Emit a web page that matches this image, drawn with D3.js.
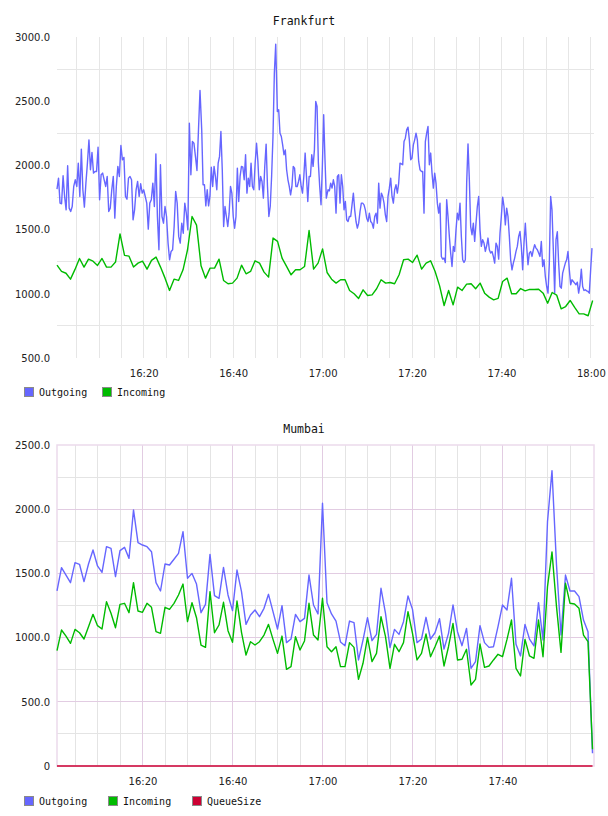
<!DOCTYPE html>
<html>
<head>
<meta charset="utf-8">
<script src="https://cdnjs.cloudflare.com/ajax/libs/d3/7.8.5/d3.min.js"></script>
<style>
  html, body { margin: 0; padding: 0; background: #fff; }
  svg { display: block; }
  .tick text { font-family: "DejaVu Sans", sans-serif; font-size: 10px; fill: #222; }
  .title, .legend text { font-family: "DejaVu Sans Mono", monospace; fill: #111; }
</style>
</head>
<body>
<svg id="chart" width="608" height="816"></svg>
<script>
// ---------------- DATA ----------------
const seriesNames = ["Outgoing", "Incoming", "QueueSize"];
const seriesColors = ["#6666ff", "#00bb00", "#cc0033"];

// Frankfurt – outgoing, in stretches of evenly spaced samples
const frankfurtOutA1Start = "16:00:36", frankfurtOutA1End = "16:32:35";
const frankfurtOutgoingA1 = [
1815,1901,1706,1701,1919,1758,1654,1997,1667,1641,
1680,1836,1888,1836,2018,1758,2127,1810,1675,1862,
2018,2199,1966,2101,1940,1953,1953,2142,1732,1927,
1940,1888,1836,1914,1641,1667,1810,1914,1589,1836,
1992,1914,2155,2044,2062,1758,1737,1901,1914,1888,
1576,1654,1810,1875,1758,1857,1784,1810,1758,1706,
1504,1706,1732,1862,1680,2090,1602,1343,2005,1602,
1550,1680,1602,1395,1265,1330,1343,1524,1797,1706,
1447,1395,1550,1472,1706,1628,1498,2329,1927,2186,
2173,2070,1960,2277,2584
];
const frankfurtOutA2Start = "16:32:58", frankfurtOutA2End = "16:49:31";
const frankfurtOutgoingA2 = [
2277,1849,1849,1685,1810,
1685,1758,1986,1836,1992,1914,1810,2018,2070,2264,
1966,1524,1680,1602,1524,1628,1836,1784,1602,1511,
1602,1979,1719,1914,1992,1986,1888,2083,1784,1901,
1836,2018,1836,1810,2018,2173,2031,1810,1914,1875,
1745,1992,2166,1836,1602,1680,1914,2225,2719,2944
];
const frankfurtOutA3Start = "16:49:53", frankfurtOutA3End = "17:00:50";
const frankfurtOutgoingA3 = [
2420,2433,2251,2225,2160,2083,2121,1966,1888,1836,
1771,1836,1992,1979,1836,1836,1875,1927,1836,1784,
1914,2096,1914,1719,1914,1914,2083,1992,2121,2498,
2459,2018,1836,1693,1992,2394,2044,1745
];
const frankfurtOutBStart = "17:01:13", frankfurtOutBEnd = "18:00:15";
const frankfurtOutgoingB = [
1810,1802,1862,1823,1888,1836,1628,1914,1927,1706,
1927,1836,1654,1719,1576,1563,1602,1602,1693,1784,
1654,1563,1511,1550,1641,1706,1706,1693,1654,1589,
1563,1628,1563,1550,1511,1602,1628,1550,1862,1667,
1784,1758,1706,1615,1563,1758,1823,1901,1758,1706,
1810,1849,1784,1862,2018,2012,2005,2186,2212,2277,
2298,2199,2044,2057,2160,2199,2251,2199,2031,1966,
1953,1953,1628,2186,2251,2303,2005,2096,1940,1823,
1940,1862,1706,1628,1706,1291,1270,1278,1244,1732,
1602,1447,1317,1213,1369,1330,1498,1628,1576,1706,
1447,1265,1244,1265,1862,2168,1888,1524,1460,1550,
1408,1550,1680,1758,1498,1369,1421,1395,1330,1374,
1434,1343,1317,1330,1291,1239,1395,1369,1270,1472,
1602,1753,1680,1537,1667,1602,1447,1265,1187,1239,
1278,1330,1369,1447,1485,1369,1187,1395,1550,1369,
1226,1317,1330,1291,1343,1382,1356,1343,1317,1291,
1408,1213,1265,1135,1057,1005,1239,1758,1654,1343,
1005,1421,1483,1239,1057,1044,1161,1200,1239,1265,
1330,1187,1070,1109,1096,1083,1070,1091,1005,1070,
1192,1057,1026,1031,1023,1018,1005,1187,1356
];
const frankfurtInStart = "16:00:36", frankfurtInEnd = "18:00:24";
const frankfurtIncoming = [
1223,1175,1160,1114,1190,1275,
1208,1270,1254,1221,1275,1208,1208,1247,1467,1299,
1293,1208,1239,1254,1192,1260,1286,1208,1122,1026,
1114,1104,1187,1343,1602,1535,1218,1122,1200,1200,
1270,1104,1078,1083,1122,1223,1156,1174,1257,1239,
1169,1130,1434,1408,1278,1213,1148,1187,1187,1213,
1493,1192,1239,1350,1166,
1114,1083,1109,1109,1026,1000,964,1031,987,992,
1039,1109,1083,1088,1078,1148,1265,1270,1244,1301,
1192,1239,1257,1174,1062,909,1026,914,1052,1026,
1075,1078,1039,1083,1005,974,953,964,1096,1122,
1000,1000,1041,1023,1034,1034,1036,1005,927,1010,
990,883,901,948,894,844,844,829,948
];
const frankfurtDomain = ["16:00:36", "18:00:42"];
const frankfurtYTicks = [500, 1000, 1500, 2000, 2500, 3000];
const frankfurtYGrid = [750, 1250, 1750, 2250, 2750];
const frankfurtXTicks = ["16:20", "16:40", "17:00", "17:20", "17:40", "18:00"];

// Mumbai (one sample per minute)
const mumbaiStart = "16:01:00";
const mumbaiOutgoing = [
1363,1545,1487,1428,1584,1571,1436,1573,1682,1558,
1508,1708,1695,1475,1677,1703,1617,1994,1739,1721,
1708,1669,1428,1363,1573,1565,1610,1656,1825,1462,
1500,1417,1194,1259,1648,1327,1306,1547,1332,1210,
1526,1358,1103,1176,1215,1163,1228,1337,1202,1067,
1249,961,989,1181,1124,1150,1487,1254,1184,2046,
1272,1184,1129,966,937,1129,1116,826,981,1155,
976,1025,1384,1189,922,1064,1025,1124,1324,1220,
961,989,1158,989,1038,1147,911,1033,1254,1046,
937,1072,761,813,1093,961,924,929,1085,1254,
1215,1462,948,857,1103,989,935,1272,981,1903,
2300,1565,1020,1487,1363,1363,1319,1137,1046,99
];
const mumbaiIncoming = [
898,1059,1012,955,1064,1038,989,1085,1181,1093,
1067,1280,1189,1077,1259,1267,1194,1428,1207,1197,
1267,1236,1046,1033,1236,1220,1267,1332,1417,1124,
1272,1155,942,924,1358,1038,1098,1275,1054,963,
1285,1041,864,968,942,968,1020,1103,986,877,
1012,753,774,1007,903,974,1267,1020,981,1306,
929,890,929,774,774,961,924,675,800,1002,
813,877,1163,1007,761,948,890,961,1202,1033,
826,877,1028,851,929,1012,779,929,1111,826,
831,909,631,675,950,768,779,826,870,851,
986,1137,761,701,986,857,839,1137,851,1397,
1667,1241,885,1423,1267,1262,1228,1020,968,130
];
const mumbaiQueueSize = [
0,0,0,0,0,0,0,0,0,0, 0,0,0,0,0,0,0,0,0,0,
0,0,0,0,0,0,0,0,0,0, 0,0,0,0,0,0,0,0,0,0,
0,0,0,0,0,0,0,0,0,0, 0,0,0,0,0,0,0,0,0,0,
0,0,0,0,0,0,0,0,0,0, 0,0,0,0,0,0,0,0,0,0,
0,0,0,0,0,0,0,0,0,0, 0,0,0,0,0,0,0,0,0,0,
0,0,0,0,0,0,0,0,0,0, 0,0,0,0,0,0,0,0,0,0
];
const mumbaiDomain = ["16:01:00", "18:00:20"];
const mumbaiYTicks = [0, 500, 1000, 1500, 2000, 2500];
const mumbaiYMinorGrid = [250, 750, 1250, 1750, 2250];
const mumbaiXTicks = ["16:20", "16:40", "17:00", "17:20", "17:40"];

// ---------------- DRAW ----------------
const parseHMS = d3.timeParse("%H:%M:%S");
const parseHM = d3.timeParse("%H:%M");
const svg = d3.select("#chart");

function spread(values, start, end) {
  const s = parseHMS(start).getTime(), e = parseHMS(end).getTime(), n = values.length;
  return values.map((v, i) => ({ t: new Date(s + (e - s) * i / (n - 1)), v }));
}
function perMinute(values, start) {
  const s = parseHMS(start).getTime();
  return values.map((v, i) => ({ t: new Date(s + i * 60000), v }));
}
function fiveMinuteMarks(x) {
  const [a, b] = x.domain();
  return d3.timeMinute.every(5).range(a, b);
}

function drawLegend(g, items, xs, y) {
  const lg = g.append("g").attr("class", "legend");
  items.forEach((it, i) => {
    lg.append("rect").attr("x", xs[i] + 0.5).attr("y", y + 0.5).attr("width", 9).attr("height", 9)
      .attr("fill", it.color).attr("stroke", "#8a8a8a").attr("stroke-width", 1);
    lg.append("text").attr("x", xs[i] + 15).attr("y", y + 9).attr("font-size", "10px").text(it.name);
  });
}

function yAxis(g, y, ticks, fmt, left) {
  g.append("g").attr("transform", `translate(${left},0)`)
    .call(d3.axisLeft(y).tickValues(ticks).tickFormat(fmt).tickSize(0).tickPadding(7))
    .call(a => a.select(".domain").remove());
}
function xAxis(g, x, ticks, bottom) {
  g.append("g").attr("transform", `translate(0,${bottom})`)
    .call(d3.axisBottom(x).tickValues(ticks.map(parseHM)).tickFormat(d3.timeFormat("%H:%M")).tickSize(0).tickPadding(12))
    .call(a => a.select(".domain").remove());
}

// ---- Frankfurt ----
(function () {
  const L = 57, R = 594, T = 37, B = 358;
  const x = d3.scaleTime().domain(frankfurtDomain.map(parseHMS)).range([L, R]);
  const y = d3.scaleLinear().domain([500, 3000]).range([B, T]);
  const g = svg.append("g");

  g.append("text").attr("class", "title").attr("x", 304).attr("y", 25)
    .attr("text-anchor", "middle").attr("font-size", "11.5px").text("Frankfurt");

  const grid = g.append("g").attr("stroke", "#e6e6e6").attr("stroke-width", 1).attr("shape-rendering", "crispEdges");
  frankfurtYGrid.forEach(v => grid.append("line").attr("x1", L).attr("x2", R).attr("y1", y(v)).attr("y2", y(v)));
  fiveMinuteMarks(x).forEach(t => grid.append("line").attr("x1", x(t)).attr("x2", x(t)).attr("y1", T).attr("y2", B));

  yAxis(g, y, frankfurtYTicks, d3.format(".1f"), L);
  xAxis(g, x, frankfurtXTicks, B);

  const line = d3.line().x(d => x(d.t)).y(d => y(d.v));
  const out = [].concat(
    spread(frankfurtOutgoingA1, frankfurtOutA1Start, frankfurtOutA1End),
    spread(frankfurtOutgoingA2, frankfurtOutA2Start, frankfurtOutA2End),
    spread(frankfurtOutgoingA3, frankfurtOutA3Start, frankfurtOutA3End),
    spread(frankfurtOutgoingB, frankfurtOutBStart, frankfurtOutBEnd));
  const inc = spread(frankfurtIncoming, frankfurtInStart, frankfurtInEnd);
  g.append("path").datum(out).attr("d", line).attr("fill", "none")
    .attr("stroke", seriesColors[0]).attr("stroke-width", 1.4).attr("stroke-linejoin", "round");
  g.append("path").datum(inc).attr("d", line).attr("fill", "none")
    .attr("stroke", seriesColors[1]).attr("stroke-width", 1.4).attr("stroke-linejoin", "round");

  drawLegend(g, [{ name: seriesNames[0], color: seriesColors[0] }, { name: seriesNames[1], color: seriesColors[1] }], [24, 102], 387);
})();

// ---- Mumbai ----
(function () {
  const L = 57, R = 594, T = 445, B = 766;
  const x = d3.scaleTime().domain(mumbaiDomain.map(parseHMS)).range([L, R]);
  const y = d3.scaleLinear().domain([0, 2500]).range([B, T]);
  const g = svg.append("g");

  g.append("text").attr("class", "title").attr("x", 304).attr("y", 433)
    .attr("text-anchor", "middle").attr("font-size", "11.5px").text("Mumbai");

  const majorX = mumbaiXTicks.map(parseHM).map(d => +d);
  const grid = g.append("g").attr("stroke-width", 1).attr("shape-rendering", "crispEdges");
  mumbaiYMinorGrid.forEach(v => grid.append("line").attr("stroke", "#e4e4e4")
    .attr("x1", L).attr("x2", R).attr("y1", y(v)).attr("y2", y(v)));
  fiveMinuteMarks(x).filter(t => !majorX.includes(+t) && x(t) < R - 4).forEach(t =>
    grid.append("line").attr("stroke", "#e4e4e4").attr("x1", x(t)).attr("x2", x(t)).attr("y1", T).attr("y2", B));
  mumbaiYTicks.filter(v => v > 0 && v < 2500).forEach(v => grid.append("line").attr("stroke", "#e2cce2")
    .attr("x1", L).attr("x2", R).attr("y1", y(v)).attr("y2", y(v)));
  mumbaiXTicks.map(parseHM).forEach(t => grid.append("line").attr("stroke", "#e2cce2")
    .attr("x1", x(t)).attr("x2", x(t)).attr("y1", T).attr("y2", B));
  g.append("rect").attr("x", L).attr("y", T).attr("width", R - L).attr("height", B - T)
    .attr("fill", "none").attr("stroke", "#ecdaec").attr("stroke-width", 1.5);

  yAxis(g, y, mumbaiYTicks, v => v === 0 ? "0" : d3.format(".1f")(v), L);
  xAxis(g, x, mumbaiXTicks, B);

  const line = d3.line().x(d => x(d.t)).y(d => y(d.v));
  [mumbaiOutgoing, mumbaiIncoming, mumbaiQueueSize].forEach((vals, i) => {
    g.append("path").datum(perMinute(vals, mumbaiStart)).attr("d", line).attr("fill", "none")
      .attr("stroke", seriesColors[i]).attr("stroke-width", 1.4).attr("stroke-linejoin", "round");
  });

  drawLegend(g, seriesNames.map((n, i) => ({ name: n, color: seriesColors[i] })), [24, 108, 192], 796);
})();
</script>
</body>
</html>
